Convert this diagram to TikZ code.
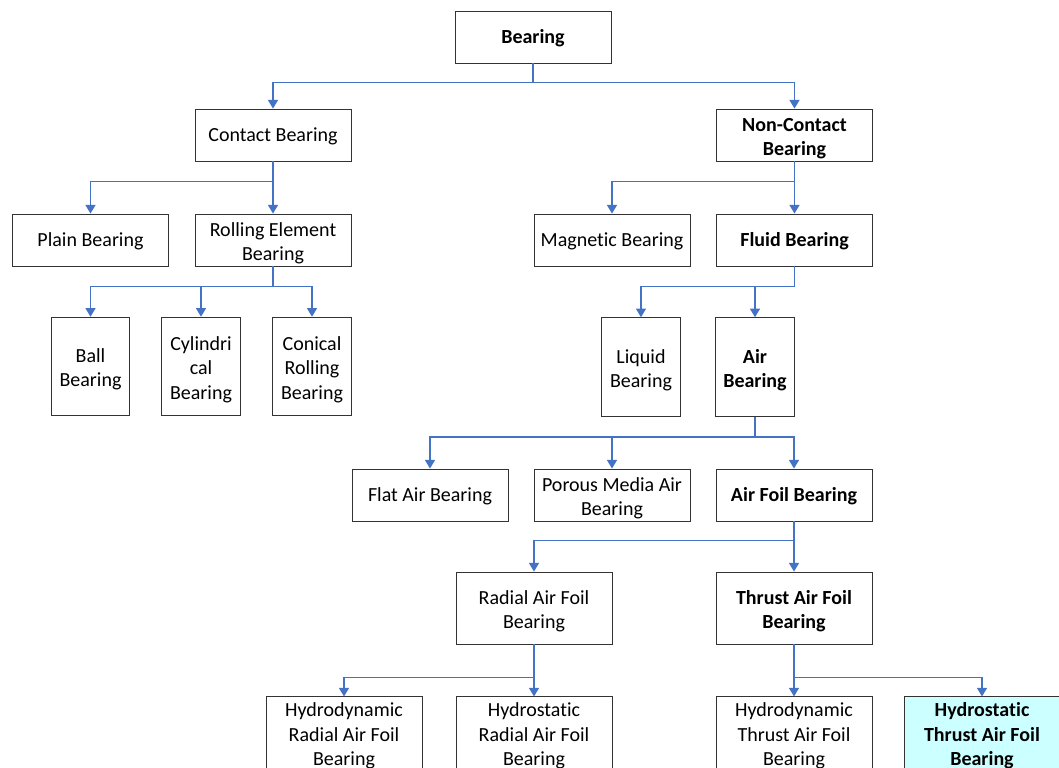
\documentclass[tikz,border=0pt]{standalone}
\usepackage{fontspec}
\setmainfont{Carlito}[Ligatures={NoCommon}]
\usetikzlibrary{arrows.meta}
\definecolor{linkblue}{HTML}{4472C4}
\definecolor{hilite}{HTML}{CCFFFF}
\newcommand\tstrut{\rule{0pt}{13pt}}
\newcommand\mstrut{\rule{0pt}{15pt}}
\tikzset{
  box/.style={draw=black!80, line width=0.65pt, fill=white, inner sep=0pt, align=center,
    font=\fontsize{15}{18.3}\selectfont},
  wbox/.style={box, minimum width=117pt, minimum height=39pt},
  tbox/.style={box, minimum width=59pt, minimum height=74pt},
  mbox/.style={box, minimum width=117pt, minimum height=54pt},
  conn/.style={draw=linkblue, line width=1.1pt, -{Triangle[width=7.5pt,length=6.5pt]}},
}
\begin{document}
\begin{tikzpicture}[x=0.75pt,y=-0.75pt]
\useasboundingbox (0,0) rectangle (1059,767);
\clip (0,0) rectangle (1059,767);
\node[wbox] (bearing) at (533,37) {\tstrut\textbf{Bearing}};
\node[wbox] (contact) at (273,135) {\tstrut Contact Bearing};
\node[wbox] (noncontact) at (794.5,135) {\mstrut\textbf{Non-Contact}\\\textbf{Bearing}};
\node[wbox] (plain) at (90.5,240) {\tstrut Plain Bearing};
\node[wbox] (rolling) at (273,240) {\mstrut Rolling Element\\Bearing};
\node[wbox] (magnetic) at (612,240) {\tstrut Magnetic Bearing};
\node[wbox] (fluid) at (794.5,240) {\tstrut\textbf{Fluid Bearing}};
\node[tbox] (ball) at (90.5,366.5) {\mstrut Ball\\Bearing};
\node[tbox] (cyl) at (201,366.5) {\mstrut Cylindri\\cal\\Bearing};
\node[tbox] (conical) at (312,366.5) {\mstrut Conical\\Rolling\\Bearing};
\node[tbox] (liquid) at (641,367) {\mstrut Liquid\\Bearing};
\node[tbox] (air) at (755,367) {\mstrut\textbf{Air}\\\textbf{Bearing}};
\node[wbox] (flat) at (430,495) {\tstrut Flat Air Bearing};
\node[wbox] (porous) at (612,495) {\mstrut Porous Media Air\\Bearing};
\node[wbox] (airfoil) at (794,495) {\tstrut\textbf{Air Foil Bearing}};
\node[mbox] (radial) at (534,608) {\mstrut Radial Air Foil\\Bearing};
\node[mbox] (thrust) at (794,608) {\mstrut\textbf{Thrust Air Foil}\\\textbf{Bearing}};
\node[mbox] (hdr) at (344,733) {\mstrut Hydrodynamic\\Radial Air Foil\\Bearing};
\node[mbox] (hsr) at (534,733) {\mstrut Hydrostatic\\Radial Air Foil\\Bearing};
\node[mbox] (hdt) at (794,733) {\mstrut Hydrodynamic\\Thrust Air Foil\\Bearing};
\node[mbox, fill=hilite] (hst) at (982,733) {\mstrut\textbf{Hydrostatic}\\\textbf{Thrust Air Foil}\\\textbf{Bearing}};
% connectors
\draw[conn] (bearing.south) -- ++(0,19) -| (contact.north);
\draw[conn] (bearing.south) -- ++(0,19) -| (noncontact.north);
\draw[conn] (contact.south) -- ++(0,20) -| (plain.north);
\draw[conn] (contact.south) -- (rolling.north);
\draw[conn] (noncontact.south) -- ++(0,20) -| (magnetic.north);
\draw[conn] (noncontact.south) -- (fluid.north);
\draw[conn] (rolling.south) -- ++(0,20) -| (ball.north);
\draw[conn] (rolling.south) -- ++(0,20) -| (cyl.north);
\draw[conn] (rolling.south) -- ++(0,20) -| (conical.north);
\draw[conn] (fluid.south) -- ++(0,20) -| (liquid.north);
\draw[conn] (fluid.south) -- ++(0,20) -| (air.north);
\draw[conn] (air.south) -- ++(0,20) -| (flat.north);
\draw[conn] (air.south) -- ++(0,20) -| (porous.north);
\draw[conn] (air.south) -- ++(0,20) -| (airfoil.north);
\draw[conn] (airfoil.south) -- ++(0,19) -| (radial.north);
\draw[conn] (airfoil.south) -- (thrust.north);
\draw[conn] (radial.south) -- ++(0,33) -| (hdr.north);
\draw[conn] (radial.south) -- (hsr.north);
\draw[conn] (thrust.south) -- ++(0,33) -| (hst.north);
\draw[conn] (thrust.south) -- (hdt.north);
\end{tikzpicture}
\end{document}
